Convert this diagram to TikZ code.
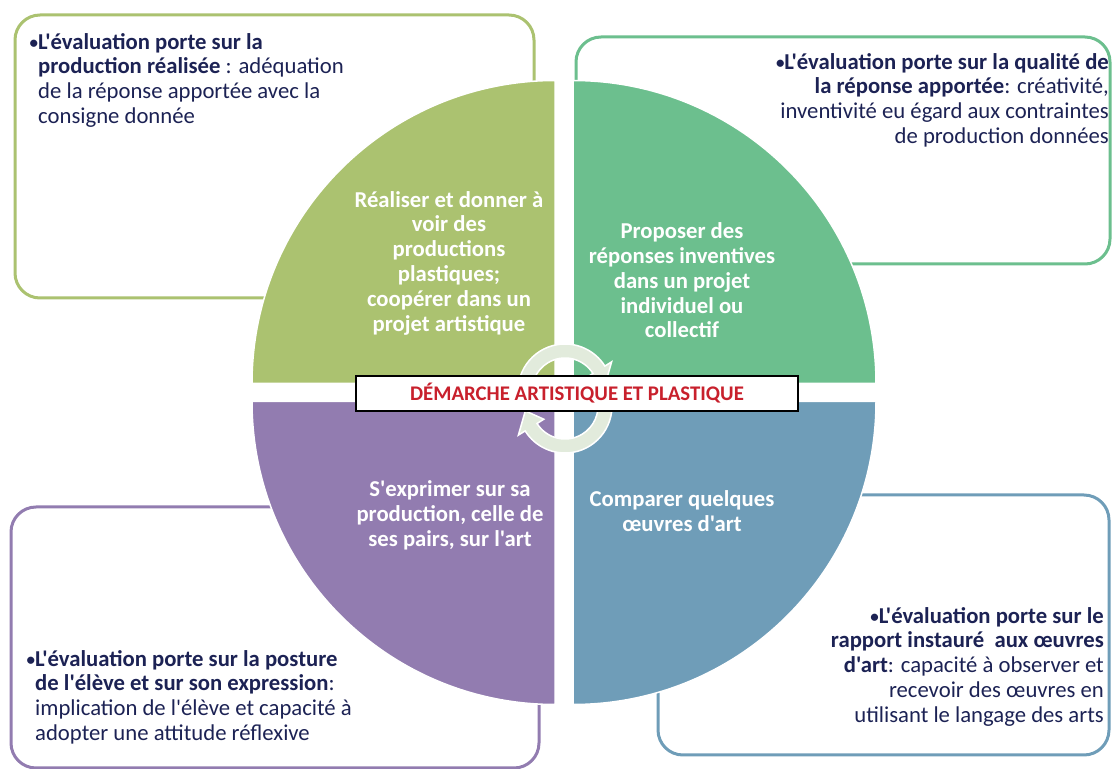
\documentclass[tikz,border=0pt]{standalone}
\usepackage{fontspec}
\setmainfont{Carlito}[Ligatures=TeXOff]
\definecolor{cgreen}{RGB}{171,194,112}
\definecolor{cteal}{RGB}{108,191,142}
\definecolor{cpurple}{RGB}{146,124,176}
\definecolor{cblue}{RGB}{111,157,184}
\definecolor{cnavy}{RGB}{28,34,84}
\definecolor{cred}{RGB}{200,32,44}
\definecolor{cring}{RGB}{226,235,220}
\newcommand{\evbullet}{{\fontsize{17}{17}\selectfont\raisebox{1pt}{\textbf{•}}}}
\begin{document}
\begin{tikzpicture}[x=1pt,y=1pt]
		\tikzstyle{evalbox}=[draw,line width=3pt,rounded corners=25pt,outer sep=0pt,inner sep=0pt]
		\tikzstyle{evaltext}=[inner sep=0pt,text=cnavy,font=\fontsize{22.7}{24.8}\selectfont]
		\tikzstyle{quadtext}=[inner sep=0pt,align=center,text=white,font=\bfseries\fontsize{22.7}{24.8}\selectfont]
		\tikzstyle{quad}=[draw=white,line width=1.5pt]
		\tikzstyle{cyc}=[fill=cring,draw=white,line width=1.5pt]
		\useasboundingbox (0,0) rectangle (1112,769);

		\node[evalbox,draw=cgreen,minimum width=519pt,minimum height=283pt] (boxTL) at (274.5,612.5) {};
		\node[evalbox,draw=cteal,minimum width=534pt,minimum height=227pt] (boxTR) at (843,618.5) {};
		\node[evalbox,draw=cpurple,minimum width=528pt,minimum height=261pt] (boxBL) at (275,131.5) {};
		\node[evalbox,draw=cblue,minimum width=451pt,minimum height=260pt] (boxBR) at (883.5,144) {};

		\path[quad,fill=cgreen] (555,385.5) -- (252,385.5) arc[start angle=180,end angle=90,radius=303] -- cycle;
		\path[quad,fill=cteal] (573,385.5) -- (573,688.5) arc[start angle=90,end angle=0,radius=303] -- cycle;
		\path[quad,fill=cpurple] (555,367.5) -- (555,64.5) arc[start angle=270,end angle=180,radius=303] -- cycle;
		\path[quad,fill=cblue] (573,367.5) -- (876,367.5) arc[start angle=0,end angle=-90,radius=303] -- cycle;

		\coordinate (ringT) at (565,378);
		\coordinate (ringB) at (565,363);
		\path[cyc] ([shift={(ringT)}]190:47) arc[start angle=190,end angle=32,radius=47]
			-- ([shift={(ringT)}]32:55) -- ([shift={(ringT)}]7:40) -- ([shift={(ringT)}]32:25)
			-- ([shift={(ringT)}]32:33) arc[start angle=32,end angle=190,radius=33] -- cycle;
		\path[cyc] ([shift={(ringB)}]10:47) arc[start angle=10,end angle=-148,radius=47]
			-- ([shift={(ringB)}]-148:55) -- ([shift={(ringB)}]-173:40) -- ([shift={(ringB)}]-148:25)
			-- ([shift={(ringB)}]-148:33) arc[start angle=-148,end angle=10,radius=33] -- cycle;

		\node[draw=black,line width=1.2pt,fill=white,minimum width=442pt,minimum height=35pt,inner sep=0pt,text=cred,font=\bfseries\fontsize{20.8}{24}\selectfont] (title) at (577,375.5) {DÉMARCHE ARTISTIQUE ET PLASTIQUE};

		\node[quadtext] (realiser) at (449,506) {Réaliser et donner à\\voir des\\productions\\plastiques;\\coopérer dans un\\projet artistique};
		\node[quadtext] (proposer) at (682,488.5) {Proposer des\\réponses inventives\\dans un projet\\individuel ou\\collectif};
		\node[quadtext] (exprimer) at (450,253.5) {S'exprimer sur sa\\production, celle de\\ses pairs, sur l'art};
		\node[quadtext] (comparer) at (682,257.5) {Comparer quelques\\œuvres d'art};

		\node[evaltext,align=left,anchor=north west] (evalTL) at ([shift={(23,-18)}]boxTL.north west) {\llap{\evbullet}\textbf{L'évaluation porte sur la}\\\textbf{production réalisée} : adéquation\\de la réponse apportée avec la\\consigne donnée};
		\node[evaltext,align=right,anchor=north east] (evalTR) at ([shift={(-1,-16)}]boxTR.north east) {\evbullet\textbf{L'évaluation porte sur la qualité de}\\\textbf{la réponse apportée}: créativité,\\inventivité eu égard aux contraintes\\de production données};
		\node[evaltext,align=left,anchor=north west] (evalBL) at ([shift={(24,-143)}]boxBL.north west) {\llap{\evbullet}\textbf{L'évaluation porte sur la posture}\\\textbf{de l'élève et sur son expression}:\\implication de l'élève et capacité à\\adopter une attitude réflexive};
		\node[evaltext,align=right,anchor=north east] (evalBR) at ([shift={(-5,-112)}]boxBR.north east) {\evbullet\textbf{L'évaluation porte sur le}\\\textbf{rapport instauré\ \ aux œuvres}\\\textbf{d'art}: capacité à observer et\\recevoir des œuvres en\\utilisant le langage des arts};
\end{tikzpicture}
\end{document}
